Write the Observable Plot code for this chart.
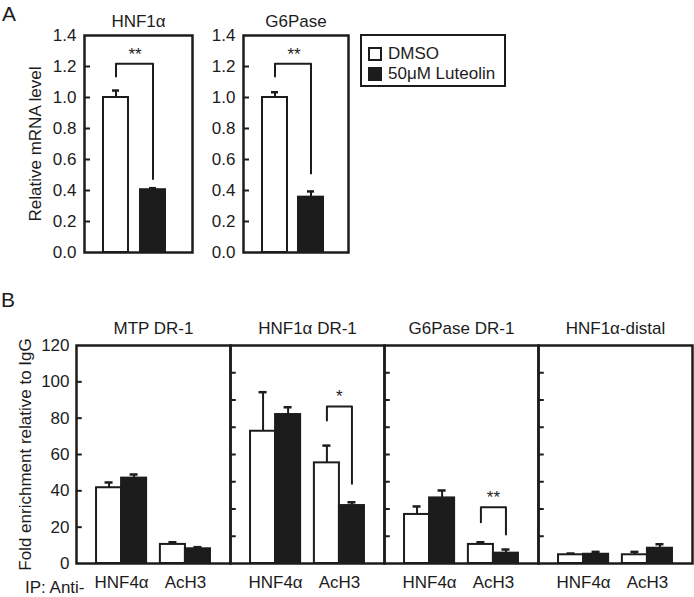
<!DOCTYPE html>
<html><head><meta charset="utf-8">
<script src="https://cdn.jsdelivr.net/npm/d3@7"></script>
<script src="https://cdn.jsdelivr.net/npm/@observablehq/plot@0.6"></script>
<style>
body{margin:0;background:#fff;font-family:"Liberation Sans",Arial,sans-serif;color:#1c1c1c;}
#root{position:relative;width:694px;height:597px;overflow:hidden;background:#fff;}
#root > *{position:absolute;}
svg{overflow:visible;}
.plabel{font-size:21px;line-height:1;}
.legend{left:360px;top:34px;width:146px;height:53px;box-sizing:border-box;border:2px solid #1c1c1c;font-size:17px;}
.legend .row{position:absolute;left:6px;display:flex;align-items:center;gap:6px;line-height:1;}
.legend .sw{width:10px;height:10px;border:2px solid #1c1c1c;}
</style></head><body><div id="root"></div>
<script>
// ---------- data ----------
const seriesNames = ["DMSO", "50μM Luteolin"];
// Panel A
const panelsA = ["HNF1α", "G6Pase"];
const aMeans  = [[1.00, 0.405], [1.00, 0.357]];
const aErrors = [[0.045, 0.010], [0.034, 0.037]];
const aBracketLeft  = [1.135, 1.135];
const aBracketTop   = [1.217, 1.217];
const aBracketRight = [0.475, 0.51];
const aStars  = ["**", "**"];
const aStarY  = [1.275, 1.275];
const yTicksA = [0, 0.2, 0.4, 0.6, 0.8, 1.0, 1.2, 1.4];
// Panel B
const panelsB = ["MTP DR-1", "HNF1α DR-1", "G6Pase DR-1", "HNF1α-distal"];
const groupsB = ["HNF4α", "AcH3"];
const bDMSO     = [[41.7, 10.5], [72.8, 55.4], [27.0, 10.5], [4.8, 4.8]];
const bDMSOErr  = [[2.9, 1.2], [21.5, 9.5], [4.4, 1.2], [0.7, 1.6]];
const bLut      = [[47.0, 8.1], [82.0, 31.9], [36.1, 5.7], [5.1, 8.4]];
const bLutErr   = [[2.0, 0.9], [4.0, 1.8], [4.1, 2.0], [1.3, 2.2]];
const brPanels  = ["HNF1α DR-1", "G6Pase DR-1"];
const brGroups  = ["AcH3", "AcH3"];
const brLeft    = [78.7, 22.7];
const brTop     = [86.4, 31.0];
const brRight   = [43.9, 16.0];
const brLabels  = ["*", "**"];
const brLabelY  = [92.1, 36.1];
const yTicksB   = [0, 20, 40, 60, 80, 100, 120];
const dividerTicks = [15, 30, 45, 60, 75, 90, 105];

// ---------- layout ----------
const INK = "#1c1c1c";
const FONT = '"Liberation Sans", Arial, sans-serif';
const FS = 17;
const root = document.getElementById("root");
function place(el, left, top) { el.style.left = left + "px"; el.style.top = top + "px"; root.appendChild(el); }

// ---------- Panel A ----------
function panelA(i, boxW, showYLabel) {
  const rows = seriesNames.map((s, j) => ({series: s, value: aMeans[i][j], err: aErrors[i][j]}));
  const br = [
    {series: seriesNames[0], y: aBracketLeft[i]},
    {series: seriesNames[0], y: aBracketTop[i]},
    {series: seriesNames[1], y: aBracketTop[i]},
    {series: seriesNames[1], y: aBracketRight[i]}
  ];
  const mL = 84, mT = 35, mB = 4, mR = 2, innerH = 217;
  const marks = [
    Plot.tickY(yTicksA.slice(1, -1), {y: d => d, insetRight: boxW - 6, stroke: INK, strokeWidth: 2}),
    Plot.ruleX(rows, {x: "series", y1: "value", y2: d => d.value + d.err, stroke: INK, strokeWidth: 2}),
    Plot.tickY(rows, {x: "series", y: d => d.value + d.err, insetLeft: 9, insetRight: 9, stroke: INK, strokeWidth: 2.5}),
    Plot.barY(rows.filter(d => d.series === seriesNames[0]), {x: "series", y: "value", fill: "white", stroke: INK, strokeWidth: 2}),
    Plot.barY(rows.filter(d => d.series === seriesNames[1]), {x: "series", y: "value", fill: INK, stroke: INK, strokeWidth: 2}),
    Plot.line(br, {x: "series", y: "y", stroke: INK, strokeWidth: 2}),
    Plot.text([aStars[i]], {x: () => seriesNames[0], y: () => aStarY[i], dx: 19, text: d => d, fontSize: FS}),
    Plot.frame({stroke: INK, strokeWidth: 2.5}),
    Plot.text([panelsA[i]], {text: d => d, frameAnchor: "top", dy: -21, fontSize: FS})
  ];
  if (showYLabel) marks.push(Plot.text(["Relative mRNA level"], {text: d => d, frameAnchor: "left", textAnchor: "middle", rotate: -90, dx: -49, fontSize: FS}));
  return Plot.plot({
    width: mL + boxW + mR, height: mT + innerH + mB,
    marginLeft: mL, marginRight: mR, marginTop: mT, marginBottom: mB,
    style: {fontFamily: FONT, fontSize: FS + "px", background: "transparent", color: INK, overflow: "visible"},
    x: {type: "band", domain: seriesNames, paddingInner: 0.316, paddingOuter: 0.58, align: 0.42, axis: null},
    y: {domain: [0, 1.4], ticks: yTicksA, tickFormat: d3.format(".1f"), tickSize: 0, tickPadding: 8, label: null},
    marks
  });
}
place(panelA(0, 108, true), 0, 0);
place(panelA(1, 105, false), 243 - 84, 0);

// legend
const leg = document.createElement("div");
leg.className = "legend";
leg.innerHTML = `<div class="row" style="top:9px"><div class="sw" style="background:#fff"></div><span>${seriesNames[0]}</span></div>
<div class="row" style="top:29px"><div class="sw" style="background:${INK}"></div><span>${seriesNames[1]}</span></div>`;
root.appendChild(leg);

// ---------- Panel B ----------
const groupCenter = {"HNF4α": 1.8, "AcH3": 4.35};
const bRows = [];
panelsB.forEach((p, i) => groupsB.forEach((g, j) => {
  bRows.push({panel: p, group: g, series: seriesNames[0], value: bDMSO[i][j], err: bDMSOErr[i][j], xc: groupCenter[g] - 0.5});
  bRows.push({panel: p, group: g, series: seriesNames[1], value: bLut[i][j], err: bLutErr[i][j], xc: groupCenter[g] + 0.5});
}));
const groupLabels = [];
panelsB.forEach(p => groupsB.forEach(g => groupLabels.push({panel: p, group: g, x: groupCenter[g]})));
const bracketPts = [], bracketTxt = [];
brPanels.forEach((p, k) => {
  const c = groupCenter[brGroups[k]];
  bracketPts.push({id: k, panel: p, x: c - 0.5, y: brLeft[k]}, {id: k, panel: p, x: c - 0.5, y: brTop[k]},
                  {id: k, panel: p, x: c + 0.5, y: brTop[k]}, {id: k, panel: p, x: c + 0.5, y: brRight[k]});
  bracketTxt.push({panel: p, x: c, y: brLabelY[k], text: brLabels[k]});
});
const leftTicks = yTicksB.slice(1, -1).map(v => ({panel: panelsB[0], v}));
const divTicks = [];
panelsB.slice(1).forEach(p => dividerTicks.forEach(v => divTicks.push({panel: p, v})));

const bW = 694, bML = 75, bMR = 2, bMT = 45, bInner = 218, bMB = 34;
const facetW = (bW - bML - bMR) / panelsB.length;
const plotB = Plot.plot({
  width: bW, height: bMT + bInner + bMB,
  marginLeft: bML, marginRight: bMR, marginTop: bMT, marginBottom: bMB,
  style: {fontFamily: FONT, fontSize: FS + "px", background: "transparent", color: INK, overflow: "visible"},
  fx: {domain: panelsB, padding: 0, axis: "top", tickSize: 0, tickPadding: 12, label: null},
  x: {domain: [0, 6.15], axis: null},
  y: {domain: [0, 120], ticks: yTicksB, tickSize: 0, tickPadding: 7, label: null},
  marks: [
    Plot.tickY(leftTicks, {fx: "panel", y: "v", insetRight: facetW - 6, stroke: INK, strokeWidth: 2}),
    Plot.tickY(divTicks, {fx: "panel", y: "v", insetRight: facetW - 6, stroke: INK, strokeWidth: 2}),
    Plot.ruleX(bRows, {fx: "panel", x: "xc", y1: "value", y2: d => d.value + d.err, stroke: INK, strokeWidth: 2}),
    Plot.ruleY(bRows, {fx: "panel", y: d => d.value + d.err, x1: d => d.xc - 0.16, x2: d => d.xc + 0.16, stroke: INK, strokeWidth: 2.5}),
    Plot.rect(bRows.filter(d => d.series === seriesNames[0]), {fx: "panel", x1: d => d.xc - 0.5, x2: d => d.xc + 0.5, y1: 0, y2: "value", fill: "white", stroke: INK, strokeWidth: 2}),
    Plot.rect(bRows.filter(d => d.series === seriesNames[1]), {fx: "panel", x1: d => d.xc - 0.5, x2: d => d.xc + 0.5, y1: 0, y2: "value", fill: INK, stroke: INK, strokeWidth: 2}),
    Plot.line(bracketPts, {fx: "panel", x: "x", y: "y", z: "id", stroke: INK, strokeWidth: 2}),
    Plot.text(bracketTxt, {fx: "panel", x: "x", y: "y", text: "text", fontSize: FS}),
    Plot.frame({stroke: INK, strokeWidth: 2.5}),
    Plot.text(groupLabels, {fx: "panel", x: "x", text: "group", frameAnchor: "bottom", dy: 24, fontSize: FS}),
    Plot.text(["Fold enrichment relative to IgG"], {fx: [panelsB[0]], text: d => d, frameAnchor: "left", textAnchor: "middle", rotate: -90, dx: -51, fontSize: FS})
  ]
});
place(plotB, 0, 300);

// panel letters and IP label
const la = document.createElement("div"); la.className = "plabel"; la.textContent = "A"; place(la, 2, 3);
const lb = document.createElement("div"); lb.className = "plabel"; lb.textContent = "B"; place(lb, 1, 289);
const ip = document.createElement("div"); ip.textContent = "IP: Anti-"; ip.style.fontSize = FS + "px"; ip.style.lineHeight = "1"; place(ip, 25, 579);
</script></body></html>
